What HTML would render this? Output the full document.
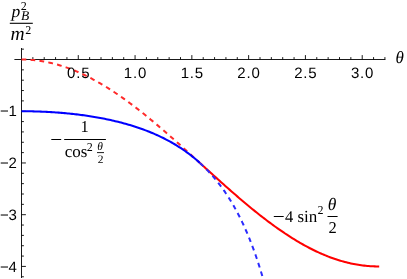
<!DOCTYPE html>
<html><head><meta charset="utf-8"><title>plot</title><style>
html,body{margin:0;padding:0;background:#fff;}
body{width:407px;height:279px;overflow:hidden;position:relative;font-family:"Liberation Sans",sans-serif;}
svg{position:absolute;left:0;top:0;will-change:transform;}
.t{font-family:"Liberation Sans",sans-serif;font-size:15px;fill:#000;letter-spacing:0.8px;}
.m{font-family:"Liberation Serif",serif;fill:#000;}
.i{font-style:italic;}
text{text-rendering:geometricPrecision;}
</style></head><body>
<svg width="407" height="279" viewBox="0 0 407 279">
<rect width="407" height="279" fill="#fff"/>
<path d="M14.4 59.5 H385.4 M21.5 48 V278 M32.86 59.5 v-2.4 M44.21 59.5 v-2.4 M55.57 59.5 v-2.4 M66.93 59.5 v-2.4 M78.28 59.5 v-4.4 M89.64 59.5 v-2.4 M101.00 59.5 v-2.4 M112.36 59.5 v-2.4 M123.71 59.5 v-2.4 M135.07 59.5 v-4.4 M146.43 59.5 v-2.4 M157.78 59.5 v-2.4 M169.14 59.5 v-2.4 M180.50 59.5 v-2.4 M191.85 59.5 v-4.4 M203.21 59.5 v-2.4 M214.57 59.5 v-2.4 M225.93 59.5 v-2.4 M237.28 59.5 v-2.4 M248.64 59.5 v-4.4 M260.00 59.5 v-2.4 M271.35 59.5 v-2.4 M282.71 59.5 v-2.4 M294.07 59.5 v-2.4 M305.42 59.5 v-4.4 M316.78 59.5 v-2.4 M328.14 59.5 v-2.4 M339.50 59.5 v-2.4 M350.85 59.5 v-2.4 M362.21 59.5 v-4.4 M373.57 59.5 v-2.4 M384.92 59.5 v-2.4 M21.5 49.15 h2.4 M21.5 69.85 h2.4 M21.5 80.19 h2.4 M21.5 90.54 h2.4 M21.5 100.88 h2.4 M21.5 111.23 h4.4 M21.5 121.58 h2.4 M21.5 131.92 h2.4 M21.5 142.27 h2.4 M21.5 152.61 h2.4 M21.5 162.96 h4.4 M21.5 173.31 h2.4 M21.5 183.65 h2.4 M21.5 194.00 h2.4 M21.5 204.34 h2.4 M21.5 214.69 h4.4 M21.5 225.04 h2.4 M21.5 235.38 h2.4 M21.5 245.73 h2.4 M21.5 256.07 h2.4 M21.5 266.42 h4.4 M21.5 276.77 h2.4" stroke="#000" stroke-width="0.9" fill="none"/>
<path d="M21.50 59.50 L22.99 59.51 L24.47 59.54 L25.96 59.58 L27.45 59.64 L28.93 59.72 L30.42 59.82 L31.91 59.93 L33.39 60.07 L34.88 60.22 L36.37 60.39 L37.85 60.57 L39.34 60.77 L40.83 60.99 L42.31 61.23 L43.80 61.49 L45.29 61.76 L46.77 62.05 L48.26 62.36 L49.75 62.68 L51.23 63.03 L52.72 63.38 L54.21 63.76 L55.69 64.15 L57.18 64.56 L58.67 64.99 L60.15 65.43 L61.64 65.89 L63.13 66.37 L64.61 66.87 L66.10 67.38 L67.59 67.90 L69.07 68.44 L70.56 69.00 L72.05 69.58 L73.53 70.17 L75.02 70.78 L76.51 71.40 L77.99 72.04 L79.48 72.69 L80.97 73.36 L82.45 74.05 L83.94 74.75 L85.42 75.46 L86.91 76.19 L88.40 76.94 L89.88 77.70 L91.37 78.47 L92.86 79.26 L94.34 80.06 L95.83 80.88 L97.32 81.71 L98.80 82.56 L100.29 83.42 L101.78 84.29 L103.26 85.17 L104.75 86.07 L106.24 86.99 L107.72 87.91 L109.21 88.85 L110.70 89.80 L112.18 90.77 L113.67 91.74 L115.16 92.73 L116.64 93.73 L118.13 94.74 L119.62 95.77 L121.10 96.80 L122.59 97.85 L124.08 98.91 L125.56 99.98 L127.05 101.06 L128.54 102.15 L130.02 103.25 L131.51 104.36 L133.00 105.48 L134.48 106.61 L135.97 107.75 L137.46 108.90 L138.94 110.06 L140.43 111.23 L141.92 112.41 L143.40 113.59 L144.89 114.79 L146.38 115.99 L147.86 117.20 L149.35 118.42 L150.84 119.65 L152.32 120.88 L153.81 122.12 L155.30 123.37 L156.78 124.62 L158.27 125.88 L159.76 127.15 L161.24 128.42 L162.73 129.70 L164.22 130.99 L165.70 132.28 L167.19 133.58 L168.68 134.88 L170.16 136.18 L171.65 137.49 L173.14 138.81 L174.62 140.13 L176.11 141.45 L177.60 142.78 L179.08 144.11 L180.57 145.44 L182.06 146.78 L183.54 148.11 L185.03 149.46 L186.52 150.80 L188.00 152.15 L189.49 153.49 L190.98 154.84 L192.46 156.19 L193.95 157.55 L195.44 158.90 L196.92 160.25 L198.41 161.61 L199.90 162.96" stroke="#ff2a2a" stroke-width="2" fill="none" stroke-dasharray="4.8 4.2"/>
<path d="M21.50 111.23 L22.99 111.23 L24.47 111.24 L25.96 111.25 L27.45 111.27 L28.93 111.29 L30.42 111.31 L31.91 111.34 L33.39 111.37 L34.88 111.41 L36.37 111.45 L37.85 111.50 L39.34 111.55 L40.83 111.61 L42.31 111.67 L43.80 111.73 L45.29 111.80 L46.77 111.88 L48.26 111.95 L49.75 112.04 L51.23 112.13 L52.72 112.22 L54.21 112.32 L55.69 112.42 L57.18 112.53 L58.67 112.64 L60.15 112.76 L61.64 112.88 L63.13 113.01 L64.61 113.14 L66.10 113.28 L67.59 113.42 L69.07 113.57 L70.56 113.72 L72.05 113.88 L73.53 114.04 L75.02 114.21 L76.51 114.39 L77.99 114.57 L79.48 114.75 L80.97 114.94 L82.45 115.14 L83.94 115.34 L85.42 115.55 L86.91 115.77 L88.40 115.99 L89.88 116.22 L91.37 116.45 L92.86 116.69 L94.34 116.94 L95.83 117.19 L97.32 117.45 L98.80 117.72 L100.29 117.99 L101.78 118.27 L103.26 118.56 L104.75 118.85 L106.24 119.15 L107.72 119.46 L109.21 119.78 L110.70 120.11 L112.18 120.44 L113.67 120.78 L115.16 121.13 L116.64 121.48 L118.13 121.85 L119.62 122.22 L121.10 122.61 L122.59 123.00 L124.08 123.40 L125.56 123.81 L127.05 124.23 L128.54 124.66 L130.02 125.10 L131.51 125.55 L133.00 126.01 L134.48 126.48 L135.97 126.96 L137.46 127.45 L138.94 127.96 L140.43 128.47 L141.92 129.00 L143.40 129.54 L144.89 130.09 L146.38 130.66 L147.86 131.23 L149.35 131.82 L150.84 132.43 L152.32 133.05 L153.81 133.68 L155.30 134.33 L156.78 134.99 L158.27 135.66 L159.76 136.36 L161.24 137.07 L162.73 137.79 L164.22 138.54 L165.70 139.30 L167.19 140.08 L168.68 140.87 L170.16 141.69 L171.65 142.52 L173.14 143.38 L174.62 144.25 L176.11 145.15 L177.60 146.07 L179.08 147.01 L180.57 147.98 L182.06 148.96 L183.54 149.98 L185.03 151.01 L186.52 152.08 L188.00 153.17 L189.49 154.29 L190.98 155.43 L192.46 156.61 L193.95 157.81 L195.44 159.05 L196.92 160.32 L198.41 161.62 L199.90 162.96" stroke="#0000ff" stroke-width="2.05" fill="none"/>
<path d="M199.90 162.96 L201.39 164.32 L202.88 165.68 L204.38 167.04 L205.87 168.40 L207.37 169.76 L208.86 171.12 L210.35 172.47 L211.85 173.83 L213.34 175.18 L214.84 176.53 L216.33 177.88 L217.83 179.23 L219.32 180.57 L220.81 181.91 L222.31 183.25 L223.80 184.58 L225.30 185.91 L226.79 187.23 L228.29 188.55 L229.78 189.87 L231.27 191.18 L232.77 192.49 L234.26 193.79 L235.76 195.09 L237.25 196.38 L238.74 197.66 L240.24 198.94 L241.73 200.22 L243.23 201.48 L244.72 202.74 L246.22 204.00 L247.71 205.24 L249.20 206.48 L250.70 207.71 L252.19 208.94 L253.69 210.15 L255.18 211.36 L256.67 212.56 L258.17 213.75 L259.66 214.93 L261.16 216.10 L262.65 217.26 L264.15 218.42 L265.64 219.56 L267.13 220.70 L268.63 221.82 L270.12 222.94 L271.62 224.04 L273.11 225.13 L274.61 226.22 L276.10 227.29 L277.59 228.35 L279.09 229.40 L280.58 230.43 L282.08 231.46 L283.57 232.47 L285.06 233.48 L286.56 234.47 L288.05 235.44 L289.55 236.41 L291.04 237.36 L292.54 238.30 L294.03 239.23 L295.52 240.14 L297.02 241.04 L298.51 241.93 L300.01 242.80 L301.50 243.66 L303.00 244.50 L304.49 245.33 L305.98 246.15 L307.48 246.95 L308.97 247.74 L310.47 248.51 L311.96 249.27 L313.45 250.01 L314.95 250.74 L316.44 251.45 L317.94 252.15 L319.43 252.83 L320.93 253.50 L322.42 254.15 L323.91 254.79 L325.41 255.41 L326.90 256.01 L328.40 256.60 L329.89 257.17 L331.38 257.72 L332.88 258.26 L334.37 258.78 L335.87 259.29 L337.36 259.77 L338.86 260.25 L340.35 260.70 L341.84 261.14 L343.34 261.56 L344.83 261.96 L346.33 262.35 L347.82 262.72 L349.32 263.07 L350.81 263.41 L352.30 263.72 L353.80 264.02 L355.29 264.31 L356.79 264.57 L358.28 264.82 L359.77 265.05 L361.27 265.26 L362.76 265.45 L364.26 265.63 L365.75 265.79 L367.25 265.93 L368.74 266.05 L370.23 266.16 L371.73 266.25 L373.22 266.32 L374.72 266.37 L376.21 266.40 L377.71 266.42 L379.20 266.42" stroke="#ff0000" stroke-width="2.05" fill="none"/>
<path d="M199.90 162.96 L200.42 163.44 L200.94 163.92 L201.46 164.41 L201.98 164.90 L202.50 165.39 L203.03 165.89 L203.55 166.40 L204.07 166.91 L204.59 167.42 L205.11 167.94 L205.63 168.46 L206.16 168.99 L206.68 169.53 L207.20 170.07 L207.72 170.61 L208.24 171.16 L208.77 171.72 L209.29 172.28 L209.81 172.84 L210.33 173.41 L210.85 173.99 L211.37 174.57 L211.90 175.16 L212.42 175.75 L212.94 176.35 L213.46 176.96 L213.98 177.57 L214.51 178.19 L215.03 178.81 L215.55 179.44 L216.07 180.07 L216.59 180.72 L217.11 181.37 L217.64 182.02 L218.16 182.68 L218.68 183.35 L219.20 184.03 L219.72 184.71 L220.24 185.40 L220.77 186.09 L221.29 186.80 L221.81 187.51 L222.33 188.23 L222.85 188.95 L223.38 189.68 L223.90 190.42 L224.42 191.17 L224.94 191.93 L225.46 192.69 L225.98 193.46 L226.51 194.24 L227.03 195.03 L227.55 195.83 L228.07 196.63 L228.59 197.45 L229.11 198.27 L229.64 199.10 L230.16 199.94 L230.68 200.79 L231.20 201.65 L231.72 202.52 L232.25 203.40 L232.77 204.28 L233.29 205.18 L233.81 206.09 L234.33 207.00 L234.85 207.93 L235.38 208.87 L235.90 209.82 L236.42 210.78 L236.94 211.75 L237.46 212.73 L237.98 213.72 L238.51 214.72 L239.03 215.74 L239.55 216.76 L240.07 217.80 L240.59 218.85 L241.12 219.91 L241.64 220.99 L242.16 222.07 L242.68 223.17 L243.20 224.29 L243.72 225.41 L244.25 226.55 L244.77 227.70 L245.29 228.87 L245.81 230.05 L246.33 231.24 L246.86 232.45 L247.38 233.68 L247.90 234.92 L248.42 236.17 L248.94 237.44 L249.46 238.72 L249.99 240.02 L250.51 241.34 L251.03 242.67 L251.55 244.02 L252.07 245.39 L252.59 246.78 L253.12 248.18 L253.64 249.60 L254.16 251.03 L254.68 252.49 L255.20 253.96 L255.73 255.46 L256.25 256.97 L256.77 258.50 L257.29 260.06 L257.81 261.63 L258.33 263.22 L258.86 264.84 L259.38 266.47 L259.90 268.13 L260.42 269.81 L260.94 271.52 L261.46 273.24 L261.99 274.99 L262.51 276.77" stroke="#2a2aff" stroke-width="2" fill="none" stroke-dasharray="4.8 4.2"/>
<text class="t" x="78.7" y="78.2" text-anchor="middle">0.5</text>
<text class="t" x="135.5" y="78.2" text-anchor="middle">1.0</text>
<text class="t" x="192.3" y="78.2" text-anchor="middle">1.5</text>
<text class="t" x="249.0" y="78.2" text-anchor="middle">2.0</text>
<text class="t" x="305.8" y="78.2" text-anchor="middle">2.5</text>
<text class="t" x="362.6" y="78.2" text-anchor="middle">3.0</text>
<text class="t" style="letter-spacing:-0.4px" x="16.4" y="116.3" text-anchor="end">−1</text>
<text class="t" style="letter-spacing:-0.4px" x="16.4" y="168.1" text-anchor="end">−2</text>
<text class="t" style="letter-spacing:-0.4px" x="16.4" y="219.8" text-anchor="end">−3</text>
<text class="t" style="letter-spacing:-0.4px" x="16.4" y="271.5" text-anchor="end">−4</text>
<text class="m i" x="395.5" y="63.3" font-size="17">θ</text>
<text class="m i" x="11.5" y="17.3" font-size="17.5">p</text>
<text class="m" x="20.8" y="9.8" font-size="12">2</text>
<text class="m i" x="20.9" y="20.2" font-size="13.5">B</text>
<path d="M9.8 23.3 H32.8" stroke="#000" stroke-width="1.1"/>
<text class="m i" x="10.6" y="39.8" font-size="19.5">m</text>
<text class="m" x="25.2" y="33.6" font-size="12">2</text>
<path d="M51.3 139.5 H61.2" stroke="#000" stroke-width="1"/>
<text class="m" x="80.5" y="131.8" font-size="16.5">1</text>
<path d="M64.2 139.5 H105.9" stroke="#000" stroke-width="1"/>
<text class="m" x="64.8" y="157.2" font-size="17">cos</text>
<text class="m" x="86.8" y="151" font-size="12">2</text>
<text class="m i" x="97.3" y="150.4" font-size="11.5">θ</text>
<path d="M97 152.6 H104" stroke="#000" stroke-width="0.9"/>
<text class="m" x="97.8" y="163.3" font-size="11.5">2</text>
<path d="M273.8 216.5 H283.7" stroke="#000" stroke-width="1"/>
<text class="m" x="285" y="221.7" font-size="16.5">4</text>
<text class="m" x="297.5" y="221.7" font-size="17">sin</text>
<text class="m" x="317.6" y="213.8" font-size="12">2</text>
<text class="m i" x="327.8" y="209.6" font-size="17.5">θ</text>
<path d="M327.5 216.5 H337.6" stroke="#000" stroke-width="1"/>
<text class="m" x="328.6" y="233.3" font-size="16.5">2</text>
</svg></body></html>
